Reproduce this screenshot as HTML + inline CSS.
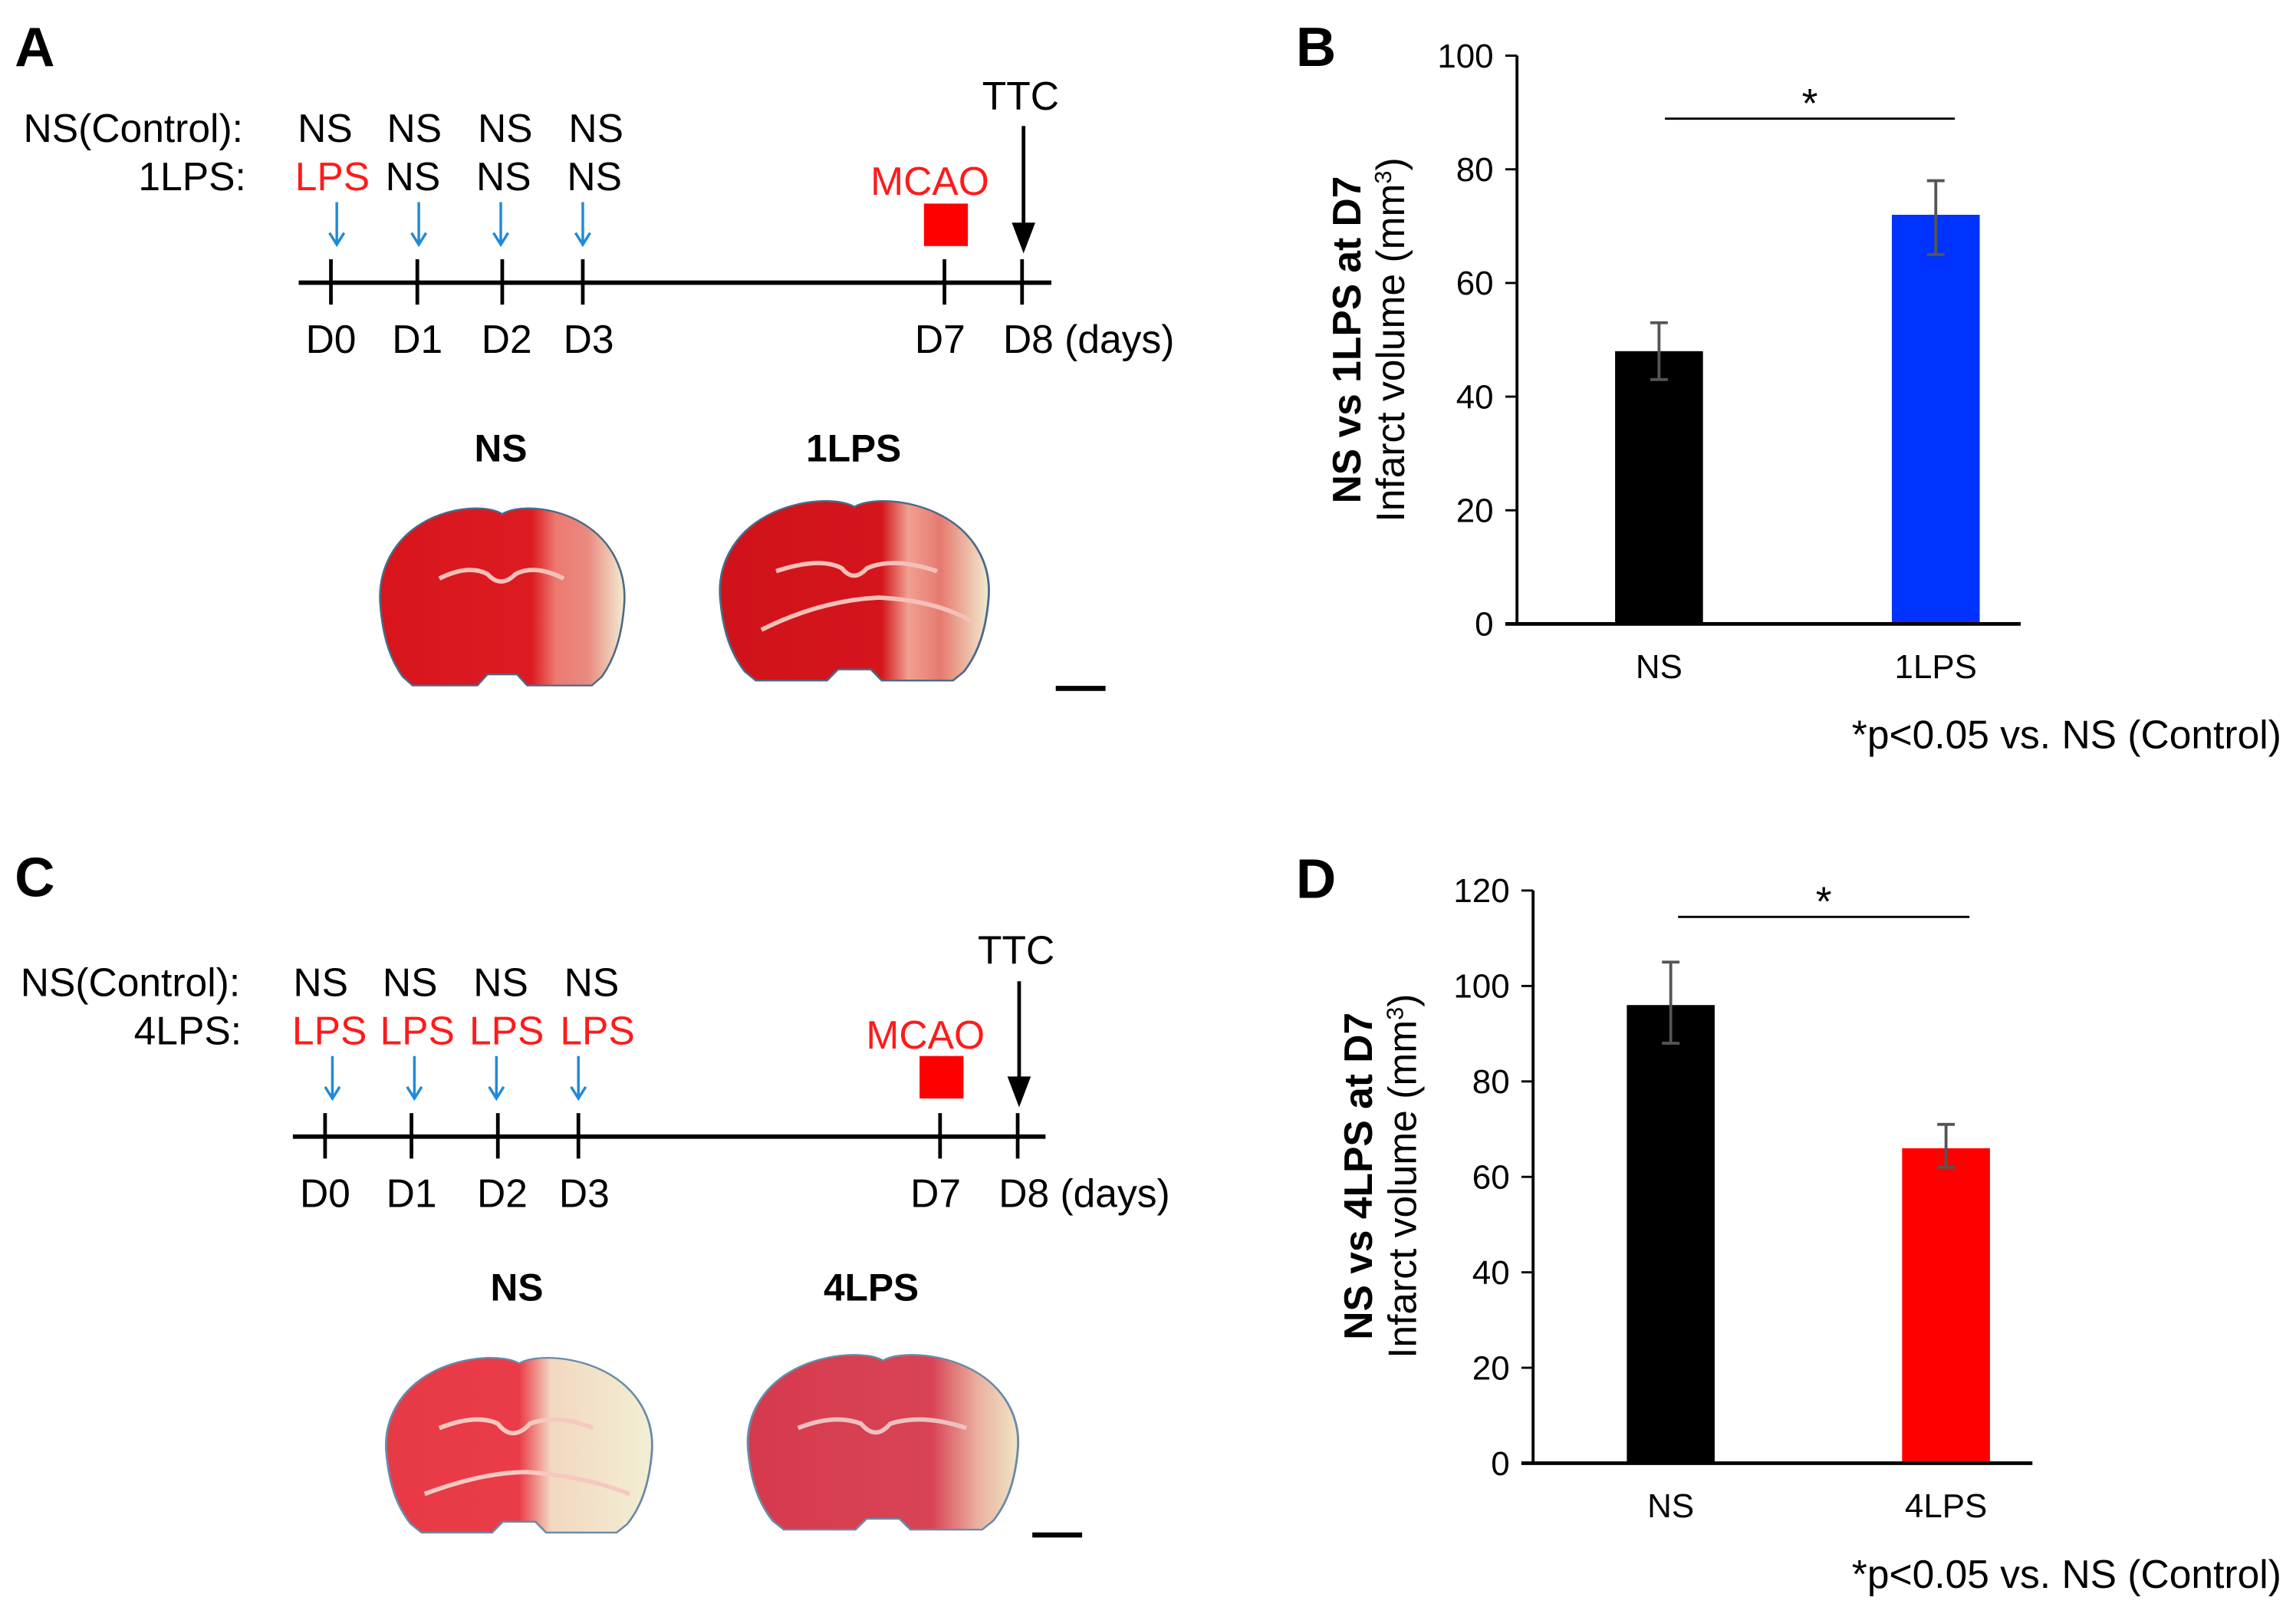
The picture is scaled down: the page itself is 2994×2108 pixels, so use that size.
<!DOCTYPE html>
<html><head><meta charset="utf-8"><style>
html,body{margin:0;padding:0;background:#fff;}
svg{display:block;font-family:"Liberation Sans",Arial,sans-serif;}
</style></head><body>
<svg id="fig" width="2994" height="2108" viewBox="0 0 1568 1104">
<defs>
<linearGradient id="gA1" x1="0" x2="1"><stop offset="0" stop-color="#d8141c"/><stop offset="0.62" stop-color="#dc1c22"/><stop offset="0.72" stop-color="#ec7a70"/><stop offset="0.85" stop-color="#e98a80"/><stop offset="1" stop-color="#f3ecd2"/></linearGradient>
<linearGradient id="gA2" x1="0" x2="1"><stop offset="0" stop-color="#d0121a"/><stop offset="0.6" stop-color="#d4151c"/><stop offset="0.7" stop-color="#f0a090"/><stop offset="0.82" stop-color="#e67a70"/><stop offset="1" stop-color="#f2eccf"/></linearGradient>
<linearGradient id="gC1" x1="0" x2="1"><stop offset="0" stop-color="#e83a46"/><stop offset="0.5" stop-color="#ea3c48"/><stop offset="0.62" stop-color="#f2d8c0"/><stop offset="1" stop-color="#f2efd4"/></linearGradient>
<linearGradient id="gC2" x1="0" x2="1"><stop offset="0" stop-color="#d63a4c"/><stop offset="0.68" stop-color="#d84454"/><stop offset="0.85" stop-color="#eab0a0"/><stop offset="1" stop-color="#f0e6c6"/></linearGradient>
<path id="brainShape" d="M50,4 C45,0 30,0 18,8 C6,16 0,30 1,45 C2,60 5,70 10,78 L14,82 L40,82 L44,77 L56,77 L60,82 L86,82 L90,78 C95,70 98,60 99,45 C100,30 94,16 82,8 C70,0 55,0 50,4 Z"/>
</defs>

<!-- Panel A -->
<text x="10" y="45" font-size="38" font-weight="bold">A</text>
<g font-size="27">
<text x="166" y="97" text-anchor="end">NS(Control):</text>
<text x="168" y="130" text-anchor="end">1LPS:</text>
<text x="222" y="97" text-anchor="middle">NS</text><text x="283" y="97" text-anchor="middle">NS</text><text x="345" y="97" text-anchor="middle">NS</text><text x="407" y="97" text-anchor="middle">NS</text>
<text x="227" y="130" text-anchor="middle" fill="#ff1a1a">LPS</text><text x="282" y="130" text-anchor="middle">NS</text><text x="344" y="130" text-anchor="middle">NS</text><text x="406" y="130" text-anchor="middle">NS</text>
<g stroke="#1f8ad8" stroke-width="1.8" fill="none">
<path d="M230,138 V167 M225,159 L230,167 L235,159"/><path d="M286,138 V167 M281,159 L286,167 L291,159"/><path d="M342,138 V167 M337,159 L342,167 L347,159"/><path d="M398,138 V167 M393,159 L398,167 L403,159"/>
</g>
<line x1="204" y1="193" x2="718" y2="193" stroke="#000" stroke-width="3"/>
<g stroke="#000" stroke-width="2.5"><line x1="226" y1="177" x2="226" y2="208"/><line x1="285" y1="177" x2="285" y2="208"/><line x1="343" y1="177" x2="343" y2="208"/><line x1="398" y1="177" x2="398" y2="208"/><line x1="645" y1="177" x2="645" y2="208"/><line x1="698" y1="177" x2="698" y2="208"/></g>
<text x="226" y="241" text-anchor="middle">D0</text><text x="285" y="241" text-anchor="middle">D1</text><text x="346" y="241" text-anchor="middle">D2</text><text x="402" y="241" text-anchor="middle">D3</text><text x="642" y="241" text-anchor="middle">D7</text><text x="685" y="241">D8 (days)</text>
<text x="635" y="133" text-anchor="middle" fill="#ff1a1a">MCAO</text>
<rect x="631" y="139" width="30" height="29" fill="#ff0000"/>
<text x="697" y="75" text-anchor="middle">TTC</text>
<line x1="699" y1="86" x2="699" y2="156" stroke="#000" stroke-width="2.5"/><path d="M691,152 L707,152 L699,173 Z" fill="#000"/>
</g>
<text x="342" y="315" text-anchor="middle" font-size="26" font-weight="bold">NS</text>
<text x="583" y="315" text-anchor="middle" font-size="26" font-weight="bold">1LPS</text>
<use href="#brainShape" transform="translate(258,345) scale(1.7,1.5)" fill="url(#gA1)" stroke="#4a6a88" stroke-width="0.8"/>
<use href="#brainShape" transform="translate(490,340) scale(1.87,1.52)" fill="url(#gA2)" stroke="#4a6a88" stroke-width="0.8"/>
<path d="M300,395 Q320,385 333,392 Q342,402 352,392 Q365,385 385,395" fill="none" stroke="#f4c0b8" stroke-width="3"/>
<path d="M520,430 Q560,410 600,408 Q640,410 665,425" fill="none" stroke="#f4c0b8" stroke-width="3"/>
<path d="M530,390 Q560,380 575,388 Q583,398 592,388 Q610,380 640,390" fill="none" stroke="#f4c0b8" stroke-width="3"/>
<line x1="721" y1="470" x2="755" y2="470" stroke="#000" stroke-width="3.5"/>

<!-- Panel C -->
<text x="10" y="612" font-size="38" font-weight="bold">C</text>
<g font-size="27">
<text x="164" y="680" text-anchor="end">NS(Control):</text>
<text x="165" y="713" text-anchor="end">4LPS:</text>
<text x="219" y="680" text-anchor="middle">NS</text><text x="280" y="680" text-anchor="middle">NS</text><text x="342" y="680" text-anchor="middle">NS</text><text x="404" y="680" text-anchor="middle">NS</text>
<g fill="#ff1a1a"><text x="225" y="713" text-anchor="middle">LPS</text><text x="285" y="713" text-anchor="middle">LPS</text><text x="346" y="713" text-anchor="middle">LPS</text><text x="408" y="713" text-anchor="middle">LPS</text></g>
<g stroke="#1f8ad8" stroke-width="1.8" fill="none"><path d="M227,721 V750 M222,742 L227,750 L232,742"/><path d="M283,721 V750 M278,742 L283,750 L288,742"/><path d="M339,721 V750 M334,742 L339,750 L344,742"/><path d="M395,721 V750 M390,742 L395,750 L400,742"/></g>
<line x1="200" y1="776" x2="714" y2="776" stroke="#000" stroke-width="3"/>
<g stroke="#000" stroke-width="2.5"><line x1="222" y1="760" x2="222" y2="791"/><line x1="281" y1="760" x2="281" y2="791"/><line x1="340" y1="760" x2="340" y2="791"/><line x1="395" y1="760" x2="395" y2="791"/><line x1="642" y1="760" x2="642" y2="791"/><line x1="695" y1="760" x2="695" y2="791"/></g>
<text x="222" y="824" text-anchor="middle">D0</text><text x="281" y="824" text-anchor="middle">D1</text><text x="343" y="824" text-anchor="middle">D2</text><text x="399" y="824" text-anchor="middle">D3</text><text x="639" y="824" text-anchor="middle">D7</text><text x="682" y="824">D8 (days)</text>
<text x="632" y="716" text-anchor="middle" fill="#ff1a1a">MCAO</text>
<rect x="628" y="721" width="30" height="29" fill="#ff0000"/>
<text x="694" y="658" text-anchor="middle">TTC</text>
<line x1="696" y1="670" x2="696" y2="738" stroke="#000" stroke-width="2.5"/><path d="M688,735 L704,735 L696,756 Z" fill="#000"/>
</g>
<text x="353" y="888" text-anchor="middle" font-size="26" font-weight="bold">NS</text>
<text x="595" y="888" text-anchor="middle" font-size="26" font-weight="bold">4LPS</text>
<use href="#brainShape" transform="translate(262,925) scale(1.85,1.48)" fill="url(#gC1)" stroke="#6a8aa8" stroke-width="0.8"/>
<use href="#brainShape" transform="translate(509,923) scale(1.88,1.48)" fill="url(#gC2)" stroke="#6a8aa8" stroke-width="0.8"/>
<path d="M300,975 Q325,965 340,972 Q350,985 362,972 Q380,965 405,975" fill="none" stroke="#f6c8c0" stroke-width="3"/>
<path d="M290,1020 Q330,1005 360,1005 Q400,1008 430,1020" fill="none" stroke="#f6c8c0" stroke-width="3"/>
<path d="M545,975 Q570,965 588,972 Q598,984 608,972 Q630,965 660,975" fill="none" stroke="#eec0c0" stroke-width="3"/>
<line x1="705" y1="1048" x2="739" y2="1048" stroke="#000" stroke-width="3.5"/>

<!-- Chart labels -->
<text x="885" y="45" font-size="38" font-weight="bold">B</text>
<text x="885" y="613" font-size="38" font-weight="bold">D</text>
<g id="chartB"></g>
<g id="chartD"></g>
</svg>
<script>
const NS_SVG = "http://www.w3.org/2000/svg";
// Chart B data
const catsB = ["NS", "1LPS"];
const valsB = [48, 72];
const errLoB = [43, 65];
const errHiB = [53, 78];
const ticksB = [0, 20, 40, 60, 80, 100];
const colorsB = ["#000000", "#0033ff"];
// Chart D data
const catsD = ["NS", "4LPS"];
const valsD = [96, 66];
const errLoD = [88, 62];
const errHiD = [105, 71];
const ticksD = [0, 20, 40, 60, 80, 100, 120];
const colorsD = ["#000000", "#ff0000"];

function mk(parent, tag, attrs, text) {
  const e = document.createElementNS(NS_SVG, tag);
  for (const k in attrs) e.setAttribute(k, attrs[k]);
  if (text !== undefined) e.textContent = text;
  parent.appendChild(e);
  return e;
}

function drawChart(g, cfg, cats, vals, lo, hi, ticks, colors) {
  const yMax = ticks[ticks.length - 1];
  const y = v => cfg.y0 - (v / yMax) * (cfg.y0 - cfg.yTop);
  const xCenter = i => cfg.xStart + i * cfg.xStep;
  const ya = mk(g, "line", {x1: cfg.ax, y1: cfg.yTop, x2: cfg.ax, y2: cfg.y0, stroke: "#000", "stroke-width": 2});
  
  
  ticks.forEach(t => {
    const tl = mk(g, "line", {x1: cfg.ax - 8, y1: y(t), x2: cfg.ax, y2: y(t), stroke: "#000", "stroke-width": 1.5});
    
    
    const tx = mk(g, "text", {x: cfg.ax - 16, y: y(t) + 8, "text-anchor": "end", "font-size": 23}, String(t));
    
    
  });
  cats.forEach((c, i) => {
    const cx = xCenter(i);
    const bar = mk(g, "rect", {x: cx - 30, y: y(vals[i]), width: 60, height: cfg.y0 - y(vals[i]), fill: colors[i]});
    
    
    const eb = mk(g, "path", {d: `M${cx-6},${y(hi[i])} H${cx+6} M${cx},${y(hi[i])} V${y(lo[i])} M${cx-6},${y(lo[i])} H${cx+6}`, stroke: "#555", "stroke-width": 2, fill: "none"});
    
    
    const xl = mk(g, "text", {x: cx, y: cfg.y0 + 37, "text-anchor": "middle", "font-size": 23}, c);
    
    
  });
  const xa = mk(g, "line", {x1: cfg.ax - 8, y1: cfg.y0, x2: cfg.axEnd, y2: cfg.y0, stroke: "#000", "stroke-width": 2.5});
  
  
  const sig = mk(g, "line", {x1: cfg.sigX1, y1: cfg.sigY, x2: cfg.sigX2, y2: cfg.sigY, stroke: "#000", "stroke-width": 1.5});
  
  
  const st = mk(g, "text", {x: (cfg.sigX1 + cfg.sigX2) / 2, y: cfg.sigY - 1, "text-anchor": "middle", "font-size": 28}, "*");
  
  
  const tg = mk(g, "text", {transform: `translate(${cfg.titleX},${cfg.titleY}) rotate(-90)`, "text-anchor": "middle", "font-size": 27});
  
  
  mk(tg, "tspan", {x: 0, y: 0, "font-weight": "bold", "font-size": 27}, cfg.title);
  mk(tg, "tspan", {x: 0, y: 30}, "Infarct volume  (mm");
  mk(tg, "tspan", {"baseline-shift": "super", "font-size": 16}, "3");
  mk(tg, "tspan", {}, ")");
  const fn = mk(g, "text", {x: 1558, y: cfg.footY, "text-anchor": "end", "font-size": 27}, "*p<0.05 vs. NS (Control)");
  
  
}

drawChart(document.getElementById("chartB"),
  {ax: 1036, axEnd: 1380, y0: 426, yTop: 38, xStart: 1133, xStep: 189, sigX1: 1137, sigX2: 1335, sigY: 81,
   titleX: 929, titleY: 232, title: "NS vs 1LPS at D7", footY: 511},
  catsB, valsB, errLoB, errHiB, ticksB, colorsB);
drawChart(document.getElementById("chartD"),
  {ax: 1047, axEnd: 1388, y0: 999, yTop: 608, xStart: 1141, xStep: 188, sigX1: 1146, sigX2: 1345, sigY: 626,
   titleX: 937, titleY: 803, title: "NS vs 4LPS at D7", footY: 1084},
  catsD, valsD, errLoD, errHiD, ticksD, colorsD);
</script>
</body></html>
